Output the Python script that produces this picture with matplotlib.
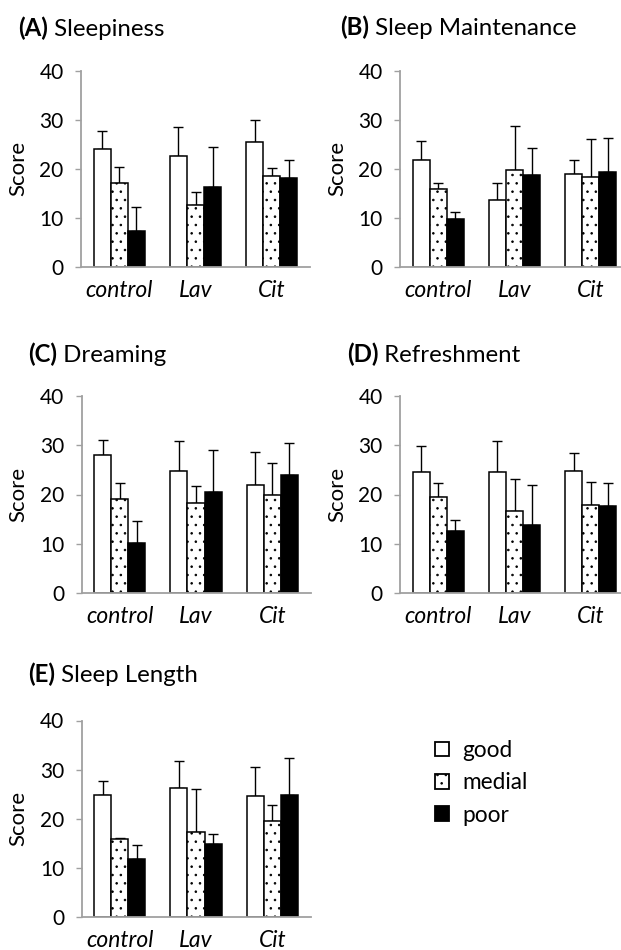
import matplotlib
matplotlib.use("Agg")
import matplotlib.pyplot as plt
from matplotlib.patches import Patch
import numpy as np

plt.rcParams['font.family'] = ['Lato', 'DejaVu Sans']
plt.rcParams['hatch.linewidth'] = 0.6

groups = ['control', 'Lav', 'Cit']
levels = ['good', 'medial', 'poor']

# means and upper error per panel, rows = good / medial / poor
sleepiness_mean = [[24.0, 22.7, 25.5], [17.1, 12.6, 18.6], [7.3, 16.3, 18.2]]
sleepiness_err = [[3.7, 5.8, 4.4], [3.3, 2.6, 1.6], [4.9, 8.2, 3.6]]

maintenance_mean = [[21.8, 13.6, 18.9], [15.8, 19.7, 18.4], [9.7, 18.7, 19.4]]
maintenance_err = [[3.9, 3.5, 3.0], [1.3, 9.0, 7.7], [1.5, 5.5, 6.9]]

dreaming_mean = [[28.0, 24.8, 21.9], [19.1, 18.3, 19.8], [10.1, 20.5, 23.9]]
dreaming_err = [[3.0, 6.1, 6.7], [3.3, 3.5, 6.5], [4.6, 8.5, 6.6]]

refreshment_mean = [[24.5, 24.5, 24.7], [19.5, 16.6, 17.8], [12.7, 13.9, 17.6]]
refreshment_err = [[5.4, 6.3, 3.6], [2.9, 6.6, 4.8], [2.1, 8.1, 4.8]]

length_mean = [[24.9, 26.3, 24.7], [15.9, 17.4, 19.5], [11.9, 15.0, 24.8]]
length_err = [[2.9, 5.5, 5.8], [0.2, 8.7, 3.3], [2.7, 1.9, 7.5]]

W, H = 621, 950
fig = plt.figure(figsize=(W / 100, H / 100), dpi=100)

styles = [dict(facecolor='white', hatch=None),
          dict(facecolor='white', hatch='..'),
          dict(facecolor='black', hatch=None)]


def panel(left, top, bottom, letter, name, title_xy, means, errs):
    width = 229
    ax = fig.add_axes([left / W, 1 - bottom / H, width / W, (bottom - top) / H])
    x = np.arange(len(groups))
    bw = 0.224
    for i in range(3):
        xs = x + (i - 1) * bw
        ax.errorbar(xs, means[i], yerr=[np.zeros(3), errs[i]], fmt='none',
                    ecolor='black', elinewidth=1.0, capsize=3.6, capthick=1.0, zorder=1)
        ax.bar(xs, means[i], width=bw, edgecolor='black', linewidth=1.1,
               zorder=2, **styles[i])
    ax.set_xlim(-0.5, 2.5)
    ax.set_ylim(0, 40)
    ax.set_yticks([0, 10, 20, 30, 40])
    ax.set_xticks(x)
    ax.set_xticklabels(groups, style='italic', fontsize=16.5)
    ax.tick_params(axis='x', length=0, pad=9)
    ax.tick_params(axis='y', length=4.5, width=1.0, color='#a0a0a0', labelsize=15, pad=8)
    for s in ['top', 'right']:
        ax.spines[s].set_visible(False)
    for s in ['left', 'bottom']:
        ax.spines[s].set_color('#a0a0a0')
        ax.spines[s].set_linewidth(1.3)
    ax.set_ylabel('Score', fontsize=16, va='center')
    ax.yaxis.set_label_coords(-0.275, 0.5)
    t = fig.text(title_xy[0] / W, 1 - title_xy[1] / H, '(' + letter + ')',
                 fontsize=17.3, fontweight='bold', va='baseline')
    ax.annotate(' ' + name, xy=(1, 0), xycoords=t, va='bottom', fontsize=17.3,
                annotation_clip=False)
    return ax


panel(81, 70.7, 267, 'A', 'Sleepiness', (18, 36), sleepiness_mean, sleepiness_err)
panel(400, 70.7, 267, 'B', 'Sleep Maintenance', (340, 35), maintenance_mean, maintenance_err)
panel(81.5, 395.7, 593.3, 'C', 'Dreaming', (28, 362), dreaming_mean, dreaming_err)
panel(400, 395.7, 593.3, 'D', 'Refreshment', (347, 362), refreshment_mean, refreshment_err)
panel(81.5, 720.5, 917.3, 'E', 'Sleep Length', (28, 682), length_mean, length_err)

handles = [Patch(edgecolor='black', linewidth=1.3, **styles[i]) for i in range(3)]
fig.legend(handles, levels, loc='upper left', bbox_to_anchor=(435 / W, 1 - 740 / H),
           frameon=False, fontsize=16.3, handlelength=0.62, handleheight=0.62,
           handletextpad=0.6, labelspacing=0.5, borderpad=0, borderaxespad=0)

fig.savefig('out.png', dpi=100)
